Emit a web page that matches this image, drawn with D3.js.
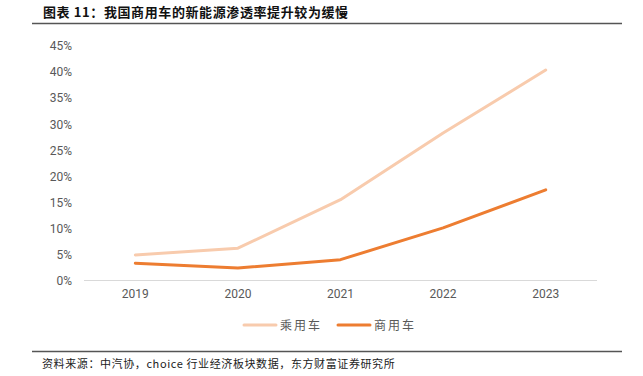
<!DOCTYPE html>
<html>
  <head>
    <meta charset="utf-8">
    <title>商用车新能源渗透率</title>
    <script src="https://d3js.org/d3.v7.min.js"></script>
    <style>
      body { margin: 0; background: #fff; }
      svg { display: block; }
      .axis text { font-family: Roboto, "Open Sans", sans-serif; font-size: 12px; fill: #595959; }
      .axis path, .axis line { stroke: none; }
      #title { font-family: "Noto Sans CJK SC", sans-serif; font-weight: bold; font-size: 13px; fill: #111; letter-spacing: 0.6px; }
      #source { font-family: "Noto Sans CJK SC", sans-serif; font-size: 11px; fill: #222; letter-spacing: 0.6px; }
      .legend text { font-family: "Noto Sans CJK SC", sans-serif; font-size: 12px; fill: #595959; letter-spacing: 2px; }
    </style>
  </head>
  <body>
    <svg id="chart" width="643" height="376"></svg>
    <script>
      // data
      var years = ["2019", "2020", "2021", "2022", "2023"];
      var passenger = [4.9, 6.2, 15.5, 28.3, 40.4];   // 乘用车
      var commercial = [3.3, 2.4, 4.0, 10.1, 17.4];   // 商用车
      var yTicks = [0, 5, 10, 15, 20, 25, 30, 35, 40, 45];
      var seriesNames = ["乘用车", "商用车"];
      var colours = ["#f8cbad", "#ed7d31"];

      var svg = d3.select("#chart");
      var margin = { top: 46, right: 46, bottom: 95.5, left: 84 };
      var width = 643, height = 376;

      // header and footer
      svg.append("text")
        .attr("id", "title")
        .attr("x", 43)
        .attr("y", 17)
        .text("图表 11：我国商用车的新能源渗透率提升较为缓慢");
      svg.append("line")
        .attr("x1", 32).attr("x2", 622)
        .attr("y1", 23.5).attr("y2", 23.5)
        .attr("stroke", "#555").attr("stroke-width", 1.5);
      svg.append("line")
        .attr("x1", 32).attr("x2", 622)
        .attr("y1", 351.5).attr("y2", 351.5)
        .attr("stroke", "#555").attr("stroke-width", 1.5);
      svg.append("text")
        .attr("id", "source")
        .attr("x", 42)
        .attr("y", 368)
        .text("资料来源：中汽协，choice 行业经济板块数据，东方财富证券研究所");

      // scales
      var x = d3.scaleBand()
        .domain(years)
        .range([margin.left, width - margin.right]);
      var y = d3.scaleLinear()
        .domain([0, 45])
        .range([height - margin.bottom, margin.top]);

      // axes
      svg.append("g")
        .attr("class", "axis")
        .attr("transform", "translate(" + (margin.left - 12) + ",0)")
        .call(d3.axisLeft(y).tickValues(yTicks).tickSize(0).tickPadding(0)
          .tickFormat(function(d) { return d + "%"; }));
      svg.append("line")
        .attr("x1", margin.left).attr("x2", width - margin.right)
        .attr("y1", y(0)).attr("y2", y(0))
        .attr("stroke", "#d9d9d9").attr("stroke-width", 1);
      svg.append("g")
        .attr("class", "axis")
        .attr("transform", "translate(0," + (y(0) + 9) + ")")
        .call(d3.axisBottom(x).tickSize(0).tickPadding(0));

      // lines
      var line = d3.line()
        .x(function(d, i) { return x(years[i]) + x.bandwidth() / 2; })
        .y(function(d) { return y(d); });
      [passenger, commercial].forEach(function(s, i) {
        svg.append("path")
          .attr("d", line(s))
          .attr("fill", "none")
          .attr("stroke", colours[i])
          .attr("stroke-width", 3)
          .attr("stroke-linecap", "round")
          .attr("stroke-linejoin", "round");
      });

      // legend
      var legend = svg.selectAll(".legend")
          .data(seriesNames)
        .enter().append("g")
          .attr("class", "legend")
          .attr("transform", function(d, i) { return "translate(" + (244 + i * 94) + ",325)"; });
      legend.append("line")
        .attr("x1", 0).attr("x2", 32)
        .attr("stroke", function(d, i) { return colours[i]; })
        .attr("stroke-width", 3)
        .attr("stroke-linecap", "round");
      legend.append("text")
        .attr("x", 36)
        .attr("y", 4.5)
        .text(function(d) { return d; });
    </script>
  </body>
</html>
